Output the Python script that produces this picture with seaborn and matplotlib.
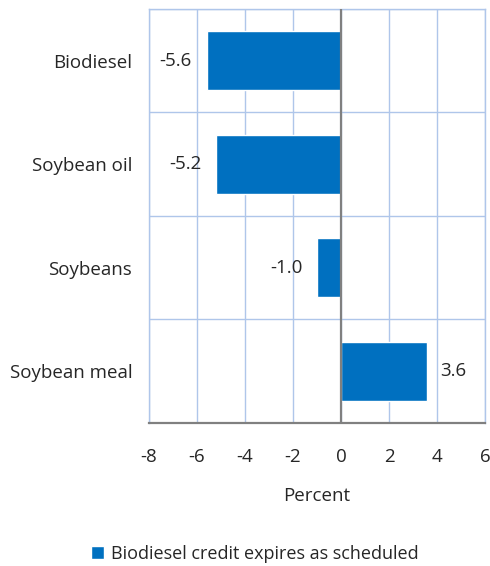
import matplotlib
matplotlib.use("Agg")
import matplotlib.pyplot as plt
import seaborn as sns
import pandas as pd
from matplotlib.patches import Patch

# --- data ---
categories = ["Biodiesel", "Soybean oil", "Soybeans", "Soybean meal"]
values = [-5.6, -5.2, -1.0, 3.6]
series_name = "Biodiesel credit expires as scheduled"
x_ticks = [-8, -6, -4, -2, 0, 2, 4, 6]

BAR_COLOR = "#0070C0"
GRID_COLOR = "#AFC6EA"
AXIS_GREY = "#808080"
FS = 13.5

df = pd.DataFrame({"category": categories, "value": values})

sns.set_style("white")
plt.rcParams["font.family"] = ["Open Sans", "DejaVu Sans"]

fig = plt.figure(figsize=(4.9, 5.66), dpi=100)
ax = fig.add_axes([0.304, 0.2527, 0.686, 0.7314])

sns.barplot(data=df, x="value", y="category", order=categories, orient="h",
            color=BAR_COLOR, width=0.57, saturation=1, ax=ax)

ax.set_xlim(-8, 6)
ax.set_ylim(3.5, -0.5)
ax.set_xticks(x_ticks)
ax.set_xticklabels([str(t) for t in x_ticks])

# grid: vertical at ticks, horizontal at category boundaries
ax.set_yticks([i - 0.5 for i in range(len(categories) + 1)], minor=True)
ax.grid(axis="x", which="major", color=GRID_COLOR, lw=1)
ax.grid(axis="y", which="minor", color=GRID_COLOR, lw=1)
ax.set_axisbelow(True)
ax.axvline(0, color=AXIS_GREY, lw=1.6, zorder=3)

for side in ["top", "left", "right"]:
    ax.spines[side].set_color(GRID_COLOR)
    ax.spines[side].set_linewidth(1)
ax.spines["bottom"].set_color(AXIS_GREY)
ax.spines["bottom"].set_linewidth(1.6)

ax.tick_params(axis="both", which="both", length=0, labelsize=FS)
ax.tick_params(axis="x", pad=18)
ax.tick_params(axis="y", pad=12)
ax.set_ylabel("")
ax.set_xlabel("Percent", fontsize=FS, labelpad=15)

# value labels
for i, v in enumerate(values):
    ha = "right" if v < 0 else "left"
    off = -0.62 if v < 0 else 0.54
    ax.text(v + off, i, f"{v:.1f}", ha=ha, va="center", fontsize=FS)

fig.legend(handles=[Patch(facecolor=BAR_COLOR, label=series_name)],
           loc="center", bbox_to_anchor=(0.52, 0.022), frameon=False,
           fontsize=13, handlelength=0.75, handleheight=0.75, handletextpad=0.4)

fig.savefig("out.png", dpi=100)
